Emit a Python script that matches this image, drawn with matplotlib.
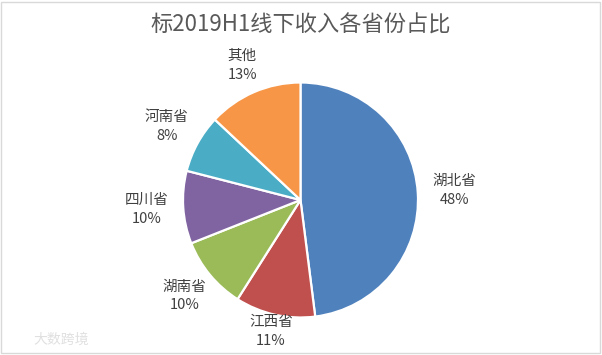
import matplotlib.pyplot as plt
import numpy as np
from matplotlib.patches import Rectangle

plt.rcParams['font.family'] = ['Noto Sans CJK SC', 'DejaVu Sans']

# data
provinces = ['湖北省', '江西省', '湖南省', '四川省', '河南省', '其他']
shares = [48, 11, 10, 10, 8, 13]
colors = ['#4F81BD', '#C0504D', '#9BBB59', '#8064A2', '#4BACC6', '#F79646']
title = '标2019H1线下收入各省份占比'

# label distance from centre, in radii (excel "best fit" look)
label_dist = [1.31, 1.15, 1.28, 1.31, 1.30, 1.25]

W, H = 602, 355
cx, cy, R = 300.5, 200, 117.5   # pie centre / radius in pixels (from top-left)

fig = plt.figure(figsize=(W / 100, H / 100), dpi=100)
ax = fig.add_axes([0, 0, 1, 1])

wedges, _ = ax.pie(shares, colors=colors, startangle=90, counterclock=False,
                   wedgeprops=dict(edgecolor='white', linewidth=1.6))

ax.set_aspect('auto')
ax.set_xlim(-cx / R, (W - cx) / R)
ax.set_ylim(-(H - cy) / R, cy / R)
ax.axis('off')

for w, name, val, d in zip(wedges, provinces, shares, label_dist):
    mid = np.deg2rad((w.theta1 + w.theta2) / 2)
    ax.text(d * np.cos(mid), d * np.sin(mid), f'{name}\n{val}%',
            ha='center', va='center', fontsize=10.5, color='#404040',
            linespacing=1.45)

fig.text(cx / W, 1 - 25 / H, title, ha='center', va='center',
         fontsize=16, color='#595959')

# faint watermark bottom left
fig.text(33 / W, 1 - 340 / H, '大数跨境', ha='left', va='center',
         fontsize=10, color='#e0e0e0')

# light grey frame round the chart
fig.patches.append(Rectangle((1 / W, 2 / H), 1 - 3 / W, 1 - 4 / H,
                             transform=fig.transFigure, fill=False,
                             edgecolor='#d9d9d9', linewidth=1))

fig.savefig('out.png', dpi=100)
